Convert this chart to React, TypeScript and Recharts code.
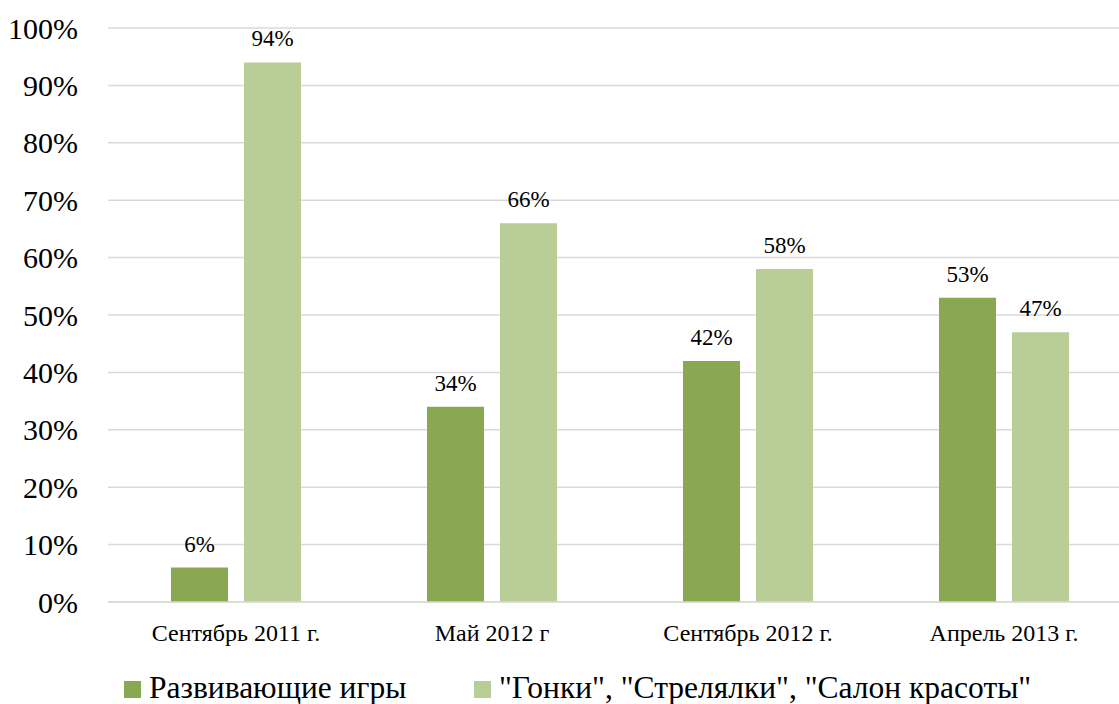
import React from "react";
import {
    BarChart,
    Bar,
    XAxis,
    YAxis,
    CartesianGrid,
    LabelList,
} from "recharts";

const periods = ["Сентябрь 2011 г.", "Май 2012 г", "Сентябрь 2012 г.", "Апрель 2013 г."];
const educational = [6, 34, 42, 53];
const arcade = [94, 66, 58, 47];
const yTicks = [0, 10, 20, 30, 40, 50, 60, 70, 80, 90, 100];

const seriesNames = {
    educational: "Развивающие игры",
    arcade: "\"Гонки\", \"Стрелялки\", \"Салон красоты\"",
};

const DARK = "#8aa751";
const LIGHT = "#b9ce96";
const GRID = "#d9d9d9";
const FONT = "'Liberation Serif', 'Times New Roman', serif";

const data = periods.map((period, i) => ({
    period,
    educational: educational[i],
    arcade: arcade[i],
}));

// legend is drawn as plain html under the plot, one item per series
function LegendRow() {
    const items = [
        { color: DARK, label: seriesNames.educational, left: 124 },
        { color: LIGHT, label: seriesNames.arcade, left: 474 },
    ];
    return (
        <>
            {items.map((item) => (
                <div
                    key={item.label}
                    style={{
                        position: "absolute",
                        left: item.left,
                        top: 668,
                        height: 40,
                        display: "flex",
                        alignItems: "center",
                        fontFamily: FONT,
                        fontSize: 31.5,
                        color: "#000",
                        whiteSpace: "nowrap",
                    }}
                >
                    <span
                        style={{
                            display: "inline-block",
                            width: 17,
                            height: 17,
                            background: item.color,
                            marginRight: 8,
                            marginTop: 2,
                        }}
                    />
                    <span>{item.label}</span>
                </div>
            ))}
        </>
    );
}

export default function App() {
    return (
        <div
            style={{
                position: "absolute",
                left: 0,
                top: 0,
                width: 1119,
                height: 704,
                overflow: "hidden",
                background: "#fff",
            }}
        >
            <BarChart
                width={1132}
                height={704}
                data={data}
                margin={{ top: 28, right: 0, left: 0, bottom: 62 }}
                barSize={57}
                barGap={16}
            >
                <CartesianGrid vertical={false} stroke={GRID} strokeWidth={1.5} />
                <XAxis
                    dataKey="period"
                    height={40}
                    tickLine={false}
                    axisLine={{ stroke: GRID, strokeWidth: 1.5 }}
                    tickMargin={16}
                    tick={{ fontSize: 24, fill: "#000", fontFamily: FONT }}
                />
                <YAxis
                    width={108}
                    domain={[0, 100]}
                    ticks={yTicks}
                    interval={0}
                    axisLine={false}
                    tickLine={false}
                    tickMargin={24}
                    tickFormatter={(v: number) => `${v}%`}
                    tick={{ fontSize: 30, fill: "#000", fontFamily: FONT }}
                />
                <Bar dataKey="educational" fill={DARK} isAnimationActive={false}>
                    <LabelList
                        dataKey="educational"
                        position="top"
                        offset={16}
                        formatter={(v: number) => `${v}%`}
                        style={{ fontSize: 23, fill: "#000", fontFamily: FONT }}
                    />
                </Bar>
                <Bar dataKey="arcade" fill={LIGHT} isAnimationActive={false}>
                    <LabelList
                        dataKey="arcade"
                        position="top"
                        offset={16}
                        formatter={(v: number) => `${v}%`}
                        style={{ fontSize: 23, fill: "#000", fontFamily: FONT }}
                    />
                </Bar>
            </BarChart>
            <LegendRow />
        </div>
    );
}
